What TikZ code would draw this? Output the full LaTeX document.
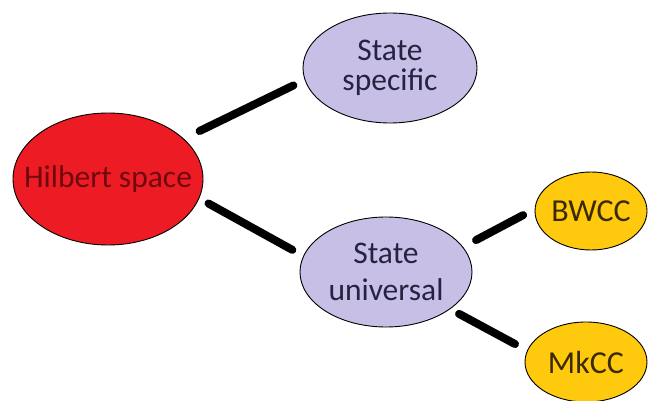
\documentclass[tikz,border=0pt]{standalone}
\usepackage{fontspec}
\setmainfont{Carlito}
\usetikzlibrary{shapes.geometric}
\definecolor{hred}{HTML}{ED1C24}
\definecolor{hredtxt}{HTML}{6E0A0E}
\definecolor{lav}{HTML}{C8BFE7}
\definecolor{lavtxt}{HTML}{25233F}
\definecolor{gold}{HTML}{FFC90E}
\definecolor{goldtxt}{HTML}{3A2A00}
\tikzset{
  blob/.style={ellipse, draw=black, line width=0.9pt, inner sep=0pt},
  blobtext/.style={align=center, inner sep=0pt},
  conn/.style={line width=8pt, line cap=round, black}
}
\begin{document}
\begin{tikzpicture}[x=1pt,y=-1pt]
\useasboundingbox (0,0) rectangle (648,401);
\fill[white] (0,0) rectangle (648,401);
\node[blob, fill=hred, minimum width=190pt, minimum height=132pt,
  label={[blobtext, text=hredtxt, font=\fontsize{31.5}{30}\selectfont]center:Hilbert space}] (hs) at (108,179) {};
\node[blob, fill=lav, minimum width=174pt, minimum height=110pt,
  label={[blobtext, text=lavtxt, font=\fontsize{31.5}{30}\selectfont]center:State\\specific}] (ss) at (390,68) {};
\node[blob, fill=lav, minimum width=172pt, minimum height=110pt,
  label={[blobtext, text=lavtxt, font=\fontsize{31.5}{37}\selectfont]center:State\\universal}] (su) at (386,272) {};
\node[blob, fill=gold, minimum width=112pt, minimum height=78pt,
  label={[blobtext, text=goldtxt, font=\fontsize{32}{32}\selectfont]center:BWCC}] (bw) at (591,211) {};
\node[blob, fill=gold, minimum width=122pt, minimum height=80pt,
  label={[blobtext, text=goldtxt, font=\fontsize{32}{32}\selectfont]center:MkCC}] (mk) at (586,362) {};
\draw[conn, shorten <=17.5pt, shorten >=12.5pt] (hs.28.4) -- (ss.188.6);
\draw[conn, shorten <=10.5pt, shorten >=12.5pt] (hs.-12.2) -- (su.169.4);
\draw[conn, shorten <=14.6pt, shorten >=13pt] (su.18.6) -- (bw.178);
\draw[conn, shorten <=10pt, shorten >=13.7pt] (su.-30.1) -- (mk.169.2);
\end{tikzpicture}
\end{document}
